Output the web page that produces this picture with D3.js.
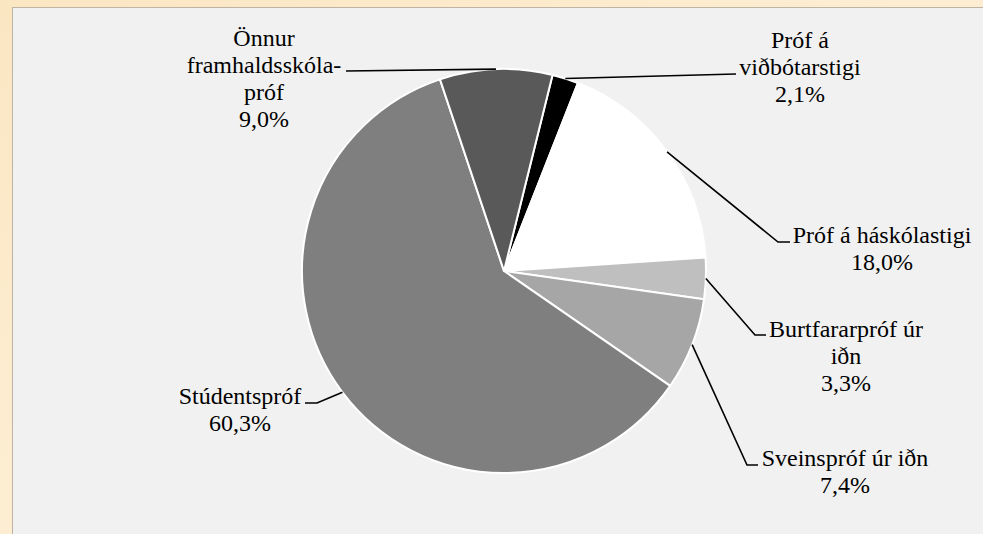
<!DOCTYPE html>
<html>
<head>
<meta charset="utf-8">
<script src="https://cdn.jsdelivr.net/npm/d3@7"></script>
<style>
  body { margin: 0; background: #fbe8c6; }
</style>
</head>
<body>
<script>
/*
*    pie chart - menntun
*/

const categories = ["Próf á viðbótarstigi", "Próf á háskólastigi", "Burtfararpróf úr iðn",
    "Sveinspróf úr iðn", "Stúdentspróf", "Önnur framhaldsskólapróf"];
const values = [2.1, 18.0, 3.3, 7.4, 60.3, 9.0];
const labelLines = [
    ["Próf á", "viðbótarstigi"],
    ["Próf á háskólastigi"],
    ["Burtfararpróf úr", "iðn"],
    ["Sveinspróf úr iðn"],
    ["Stúdentspróf"],
    ["Önnur", "framhaldsskóla-", "próf"]
];
const colors = ["#000000", "#ffffff", "#bfbfbf", "#a6a6a6", "#7f7f7f", "#595959"];

// label layout: x, first baseline, leader bend points
const labelLayout = [
    {x: 800, y: 48, bend: [[736, 74]]},
    {x: 882, y: 243, bend: [[778, 242], [790, 242]]},
    {x: 846, y: 337, bend: [[755, 335], [766, 335]]},
    {x: 845, y: 466, bend: [[747, 465], [758, 465]]},
    {x: 240, y: 404, bend: [[317, 403], [305, 403]]},
    {x: 264, y: 46, bend: [[346, 71]]}
];

const width = 983;
const height = 534;
const cx = 504, cy = 271, radius = 202;
const lineHeight = 27;

const data = categories.map((c, i) => ({name: c, value: values[i], lines: labelLines[i],
    color: colors[i], layout: labelLayout[i]}));

const svg = d3.select("body")
    .append("svg")
        .attr("width", width)
        .attr("height", height)
        .style("display", "block");

// parchment border
const grad = svg.append("defs").append("linearGradient")
    .attr("id", "paper")
    .attr("x1", 0).attr("y1", 0).attr("x2", 1).attr("y2", 1);
grad.append("stop").attr("offset", "0%").attr("stop-color", "#fbe6c2");
grad.append("stop").attr("offset", "50%").attr("stop-color", "#fdeed3");
grad.append("stop").attr("offset", "100%").attr("stop-color", "#f8e0b6");

svg.append("rect")
    .attr("width", width)
    .attr("height", height)
    .attr("fill", "url(#paper)");

svg.append("rect")
    .attr("x", 12.5)
    .attr("y", 7.5)
    .attr("width", width)
    .attr("height", height)
    .attr("fill", "#f1f1f1")
    .attr("stroke", "#bdb4a4")
    .attr("stroke-width", 1);

const g = svg.append("g")
    .attr("transform", "translate(" + cx + "," + cy + ")");

const start = 13.9 * Math.PI / 180;
const pie = d3.pie()
    .sort(null)
    .value(d => d.value)
    .startAngle(start)
    .endAngle(start + 2 * Math.PI);

const arc = d3.arc()
    .innerRadius(0)
    .outerRadius(radius);

const edge = d3.arc()
    .innerRadius(radius)
    .outerRadius(radius);

const arcs = pie(data);

g.selectAll("path.slice")
    .data(arcs)
    .enter()
    .append("path")
        .attr("class", "slice")
        .attr("d", arc)
        .attr("fill", d => d.data.color)
        .attr("stroke", "#ffffff")
        .attr("stroke-width", 2)
        .attr("stroke-linejoin", "round");

// leader lines
const line = d3.line();
svg.selectAll("path.leader")
    .data(arcs)
    .enter()
    .append("path")
        .attr("class", "leader")
        .attr("d", d => {
            const c = edge.centroid(d);
            return line([[c[0] + cx, c[1] + cy]].concat(d.data.layout.bend));
        })
        .attr("fill", "none")
        .attr("stroke", "#000")
        .attr("stroke-width", 1.6);

const pct = d => d3.format(".1f")(d).replace(".", ",") + "%";

// one text element per label line
const labelRows = [];
arcs.forEach(d => {
    d.data.lines.concat([pct(d.data.value)]).forEach((s, i) => {
        labelRows.push({text: s, x: d.data.layout.x, y: d.data.layout.y + i * lineHeight});
    });
});

svg.selectAll("text.txt")
    .data(labelRows)
    .enter()
    .append("text")
        .attr("class", "txt")
        .attr("x", d => d.x)
        .attr("y", d => d.y)
        .attr("text-anchor", "middle")
        .attr("font-family", "Liberation Serif")
        .attr("font-size", "24px")
        .style("font-family", "'Liberation Serif'")
        .style("fill", "#000")
        .text(d => d.text);
</script>
</body>
</html>
